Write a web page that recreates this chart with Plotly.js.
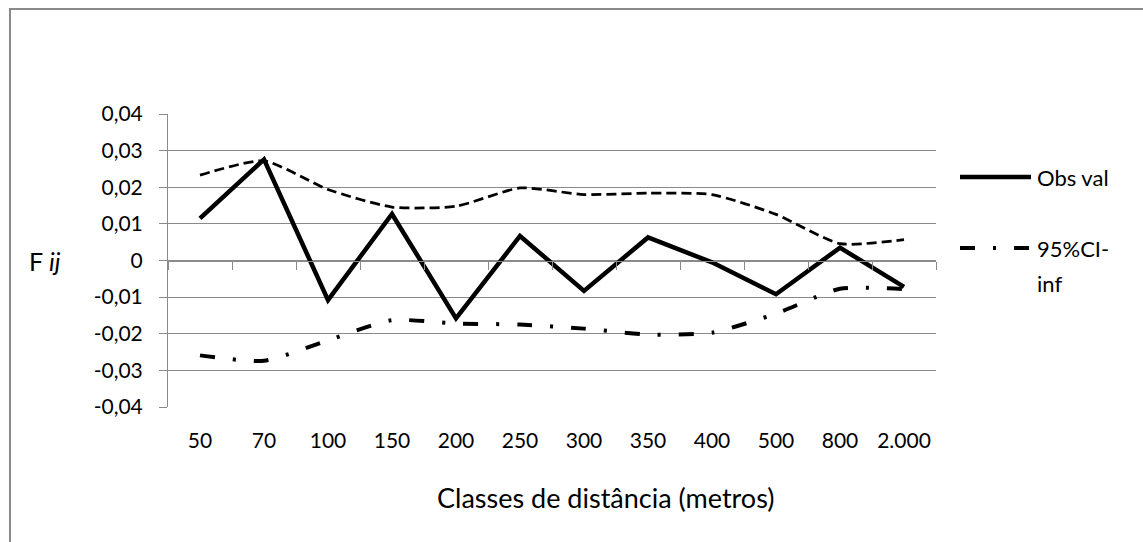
<!DOCTYPE html>
<html>
<head>
<meta charset="utf-8">
<script src="https://cdn.plot.ly/plotly-3.0.1.min.js"></script>
<style>
  html, body { margin: 0; padding: 0; background: #fff; }
  #frame { position: absolute; left: 9px; top: 8px; width: 1150px; height: 560px; border-left: 2px solid #8a8a8a; border-top: 2px solid #8a8a8a; box-sizing: border-box; pointer-events: none; z-index: 5; }
  #chart { position: absolute; left: 0; top: 0; width: 1143px; height: 542px; }
</style>
</head>
<body>
<div id="chart"></div>
<div id="frame"></div>
<script>
// ---- data ----
const categories = ['50', '70', '100', '150', '200', '250', '300', '350', '400', '500', '800', '2.000'];
const obsVal   = [0.0115, 0.0276, -0.0108, 0.0127, -0.0158, 0.0067, -0.0083, 0.0063, -0.0005, -0.0092, 0.0035, -0.0072];
const ciSup    = [0.0233, 0.0272, 0.0194, 0.0146, 0.0148, 0.0198, 0.0180, 0.0184, 0.0180, 0.0126, 0.0046, 0.0057];
const ciInf    = [-0.0259, -0.0274, -0.0218, -0.0163, -0.0172, -0.0175, -0.0186, -0.0202, -0.0197, -0.0145, -0.0077, -0.0078];
const yTickVals = [-0.04, -0.03, -0.02, -0.01, 0, 0.01, 0.02, 0.03, 0.04];
const yTickText = ['-0,04', '-0,03', '-0,02', '-0,01', '0', '0,01', '0,02', '0,03', '0,04'];
const seriesNames = ['Obs val', '95%CI-sup', '95%CI-inf'];
const legendInfLines = ['95%CI-', 'inf'];
const xTitle = 'Classes de distância (metros)';
const yTitle = 'F <i>ij</i>';

const FONT = 'Lato, "Open Sans", sans-serif';
const GRID = '#8a8a8a';
const dashDot = '15px,18px,3px,18px';

const traces = [
  { type: 'scatter', mode: 'lines', name: seriesNames[1], x: categories, y: ciSup,
    xaxis: 'x', yaxis: 'y', line: { color: '#000', width: 2.75, dash: '10px,5px', shape: 'spline', smoothing: 0.6 },
    showlegend: false, hoverinfo: 'x+y' },
  { type: 'scatter', mode: 'lines', name: seriesNames[2], x: categories, y: ciInf,
    xaxis: 'x', yaxis: 'y', line: { color: '#000', width: 4, dash: dashDot, shape: 'spline', smoothing: 0.6 },
    showlegend: false, hoverinfo: 'x+y' },
  { type: 'scatter', mode: 'lines', name: seriesNames[0], x: categories, y: obsVal,
    xaxis: 'x2', yaxis: 'y', line: { color: '#000', width: 4.5 },
    showlegend: false, hoverinfo: 'x+y' }
];

// plot area in pixels (from the reference): x 168..936, y 114..407
const L = 168, R = 936, T = 114, B = 407;
const px = v => (v - L) / (R - L);
const py = v => (B - v) / (B - T);

const layout = {
  width: 1143, height: 542,
  margin: { l: L, r: 1143 - R, t: T, b: 542 - B, pad: 0 },
  paper_bgcolor: '#fff', plot_bgcolor: '#fff',
  font: { family: FONT, size: 21, color: '#000' },
  separators: ',.',
  showlegend: false,
  xaxis: {
    type: 'category', categoryorder: 'array', categoryarray: categories,
    range: [-0.5, categories.length - 0.5],
    showline: false, showgrid: false, zeroline: false, ticks: '',
    ticklabelstandoff: 19, tickfont: { family: FONT, size: 21, color: '#000' },
    fixedrange: true
  },
  xaxis2: {
    type: 'category', categoryorder: 'array', categoryarray: categories,
    range: [-0.5, categories.length - 0.5],
    overlaying: 'x', anchor: 'free', position: 0.5, side: 'bottom',
    showline: true, linecolor: GRID, linewidth: 1,
    ticks: 'outside', tickson: 'boundaries', ticklen: 8, tickcolor: GRID, tickwidth: 1,
    showticklabels: false, showgrid: false, zeroline: false, fixedrange: true
  },
  yaxis: {
    range: [-0.04, 0.04], tickmode: 'array', tickvals: yTickVals, ticktext: yTickText,
    showline: true, linecolor: GRID, linewidth: 1,
    ticks: 'outside', ticklen: 8, tickcolor: GRID, tickwidth: 1,
    showgrid: true, gridcolor: GRID, gridwidth: 1, zeroline: false,
    ticklabelstandoff: 12, tickfont: { family: FONT, size: 21, color: '#000' },
    fixedrange: true
  },
  annotations: [
    { xref: 'paper', yref: 'paper', x: px(605), y: py(497), text: xTitle, showarrow: false,
      xanchor: 'center', yanchor: 'middle', font: { family: FONT, size: 27, color: '#000' } },
    { xref: 'paper', yref: 'y', x: px(45), y: 0, text: yTitle, showarrow: false,
      xanchor: 'center', yanchor: 'middle', font: { family: FONT, size: 25, color: '#000' } },
    // legend labels
    { xref: 'paper', yref: 'paper', x: px(1035), y: py(177), text: seriesNames[0], showarrow: false,
      xanchor: 'left', yanchor: 'middle', font: { family: FONT, size: 22, color: '#000' } },
    { xref: 'paper', yref: 'paper', x: px(1035), y: py(248), text: legendInfLines[0], showarrow: false,
      xanchor: 'left', yanchor: 'middle', font: { family: FONT, size: 22, color: '#000' } },
    { xref: 'paper', yref: 'paper', x: px(1035), y: py(283), text: legendInfLines[1], showarrow: false,
      xanchor: 'left', yanchor: 'middle', font: { family: FONT, size: 22, color: '#000' } }
  ],
  shapes: [
    { type: 'line', xref: 'paper', yref: 'paper', x0: px(960), x1: px(1031), y0: py(177), y1: py(177),
      line: { color: '#000', width: 4.5 } },
    { type: 'line', xref: 'paper', yref: 'paper', x0: px(960), x1: px(1031), y0: py(248), y1: py(248),
      line: { color: '#000', width: 4, dash: dashDot } }
  ]
};

Plotly.newPlot('chart', traces, layout, { displayModeBar: false, staticPlot: true });
</script>
</body>
</html>
